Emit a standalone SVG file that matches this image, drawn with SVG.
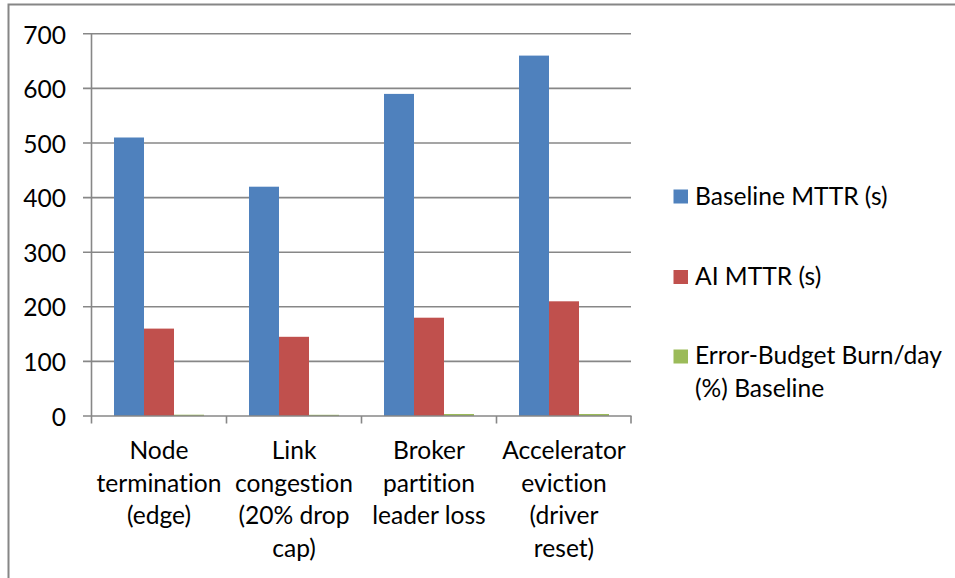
<svg xmlns="http://www.w3.org/2000/svg" width="955" height="578" viewBox="0 0 955 578">
  <style>
    text { font-family: Lato, "Liberation Sans", sans-serif; font-size: 24.6px; fill: #000; font-variant-ligatures: none; font-feature-settings: "liga" 0, "clig" 0; }
    .ylab { text-anchor: end; }
    .xlab { text-anchor: middle; }
    .grid { stroke: #878787; stroke-width: 1.6; fill: none; }
    .axis { stroke: #878787; stroke-width: 1.6; fill: none; }
    .s1 { fill: #4F81BD; }
    .s2 { fill: #C0504D; }
    .s3 { fill: #9BBB59; }
  </style>
  <rect x="0" y="0" width="955" height="578" fill="#fff"/>
  <!-- chart frame -->
  <path d="M8.5 580 V4.5 H960" fill="none" stroke="#868686" stroke-width="2"/>

  <!-- value gridlines (0..700, step 100) -->
  <g id="gridlines" class="grid">
    <line x1="83" y1="33.8" x2="631" y2="33.8"/>
    <line x1="83" y1="88.4" x2="631" y2="88.4"/>
    <line x1="83" y1="143" x2="631" y2="143"/>
    <line x1="83" y1="197.6" x2="631" y2="197.6"/>
    <line x1="83" y1="252.2" x2="631" y2="252.2"/>
    <line x1="83" y1="306.8" x2="631" y2="306.8"/>
    <line x1="83" y1="361.4" x2="631" y2="361.4"/>
  </g>

  <g id="y-labels">
    <text class="ylab" x="66" y="43.5">700</text>
    <text class="ylab" x="66" y="98">600</text>
    <text class="ylab" x="66" y="152.5">500</text>
    <text class="ylab" x="66" y="207">400</text>
    <text class="ylab" x="66" y="261.5">300</text>
    <text class="ylab" x="66" y="316">200</text>
    <text class="ylab" x="66" y="370.5">100</text>
    <text class="ylab" x="66" y="425.5">0</text>
  </g>

  <!-- bars -->
  <g id="cat-node-termination">
    <rect class="s1" x="114" y="137.5" width="30" height="278.5"/>
    <rect class="s2" x="144" y="328.6" width="30" height="87.4"/>
    <rect class="s3" x="174" y="414.7" width="30" height="1.3"/>
  </g>
  <g id="cat-link-congestion">
    <rect class="s1" x="249" y="186.7" width="30" height="229.3"/>
    <rect class="s2" x="279" y="336.8" width="30" height="79.2"/>
    <rect class="s3" x="309" y="414.8" width="30" height="1.2"/>
  </g>
  <g id="cat-broker-partition">
    <rect class="s1" x="384" y="93.9" width="30" height="322.1"/>
    <rect class="s2" x="414" y="317.7" width="30" height="98.3"/>
    <rect class="s3" x="444" y="414" width="30" height="2"/>
  </g>
  <g id="cat-accelerator-eviction">
    <rect class="s1" x="519" y="55.6" width="30" height="360.4"/>
    <rect class="s2" x="549" y="301.3" width="30" height="114.7"/>
    <rect class="s3" x="579" y="414" width="30" height="2"/>
  </g>

  <!-- axes and tick marks -->
  <g id="axes" class="axis">
    <line x1="91.5" y1="33" x2="91.5" y2="423.5"/>
    <line x1="83" y1="416" x2="631.5" y2="416"/>
    <line x1="226.5" y1="416" x2="226.5" y2="423.5"/>
    <line x1="361.5" y1="416" x2="361.5" y2="423.5"/>
    <line x1="496.5" y1="416" x2="496.5" y2="423.5"/>
    <line x1="631" y1="416" x2="631" y2="423.5"/>
  </g>

  <g id="x-labels">
    <text class="xlab" x="159" y="459">Node</text>
    <text class="xlab" x="159" y="491.5">termination</text>
    <text class="xlab" x="159" y="524">(edge)</text>

    <text class="xlab" x="294" y="459">Link</text>
    <text class="xlab" x="294" y="491.5">congestion</text>
    <text class="xlab" x="294" y="524">(20% drop</text>
    <text class="xlab" x="294" y="556.5">cap)</text>

    <text class="xlab" x="429" y="459">Broker</text>
    <text class="xlab" x="429" y="491.5">partition</text>
    <text class="xlab" x="429" y="524">leader loss</text>

    <text class="xlab" x="564" y="459">Accelerator</text>
    <text class="xlab" x="564" y="491.5">eviction</text>
    <text class="xlab" x="564" y="524">(driver</text>
    <text class="xlab" x="564" y="556.5">reset)</text>
  </g>

  <!-- legend -->
  <g id="legend">
    <g id="legend-baseline">
      <rect class="s1" x="673.5" y="189.5" width="14.5" height="14"/>
      <text x="695" y="205">Baseline MTTR (s)</text>
    </g>
    <g id="legend-ai">
      <rect class="s2" x="673.5" y="270" width="14.5" height="14"/>
      <text x="695" y="285">AI MTTR (s)</text>
    </g>
    <g id="legend-burn">
      <rect class="s3" x="673.5" y="349.5" width="14.5" height="14"/>
      <text x="695" y="364">Error-Budget Burn/day</text>
      <text x="695" y="396.5">(%) Baseline</text>
    </g>
  </g>
</svg>
